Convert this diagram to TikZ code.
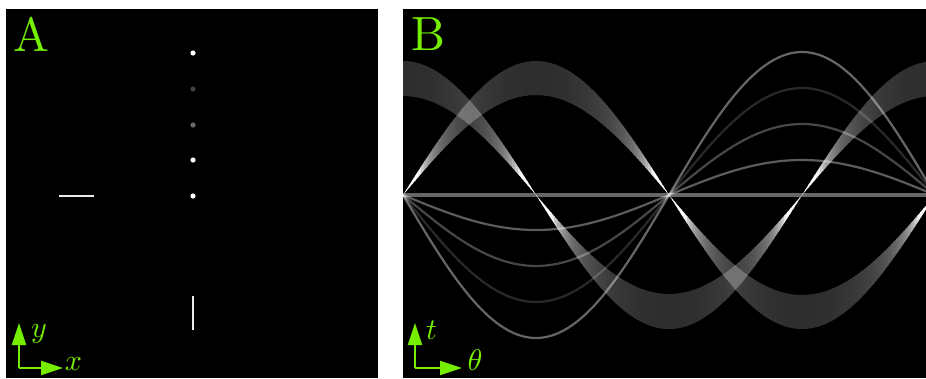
\documentclass[tikz,border=0pt]{standalone}
\usetikzlibrary{arrows.meta,positioning}
\definecolor{limegreen2}{RGB}{118,238,0}
\definecolor{dotgray1}{RGB}{64,64,64}
\definecolor{dotgray2}{RGB}{105,105,105}
\tikzset{
  panel/.style={fill=black, draw=none, inner sep=0pt, outer sep=0pt},
  paneltag/.style={text=limegreen2, scale=4.8, inner sep=0pt, anchor=base west},
  axisline/.style={draw=limegreen2, line width=2pt, -{Triangle[length=22pt,width=14pt]}},
  axislabel/.style={text=limegreen2, scale=3, inner sep=0pt},
  seg/.style={draw=white!92!black, line width=2.2pt},
  trace/.style={draw=white, line width=2.2pt, draw opacity=#1}
}
\newcommand{\sinox}[1]{403+1.478*(#1)}

\begin{document}
\begin{tikzpicture}[x=1pt, y=-1pt]
\useasboundingbox[fill=white] (0,0) rectangle (926,378);
\node[panel, minimum width=372pt, minimum height=369pt, anchor=north west] (imgA) at (6,9) {};
\node[panel, minimum width=523pt, minimum height=369pt, anchor=north west] (imgB) at (403,9) {};

% object
\foreach \yy/\c in {53/white,89/dotgray1,125/dotgray2,160/white,196/white}
  \fill[\c] (193,\yy) circle (2.6);
\draw[seg] (59,196) -- (94,196);
\draw[seg] (193,296) -- (193,330);

% sinogram
\begin{scope}
\clip (403,9) rectangle (926,378);
\begin{scope}[blend mode=screen]
\begin{scope}[transparency group]
\begin{scope}[blend mode=normal]
\foreach \a in {0,2,...,358}{
  \pgfmathsetmacro{\b}{\a+2.6}
  \pgfmathsetmacro{\lv}{min(100,18/max(abs(cos(\a+1)),0.01))}
  \fill[white!\lv!black] ({\sinox{\a}},{195-134*cos(\a)}) -- ({\sinox{\b}},{195-134*cos(\b)})
    -- ({\sinox{\b}},{195-99*cos(\b)}) -- ({\sinox{\a}},{195-99*cos(\a)}) -- cycle;
}
\end{scope}
\end{scope}
\begin{scope}[transparency group]
\begin{scope}[blend mode=normal]
\foreach \a in {0,2,...,358}{
  \pgfmathsetmacro{\b}{\a+2.6}
  \pgfmathsetmacro{\lv}{min(100,18/max(abs(sin(\a+1)),0.01))}
  \fill[white!\lv!black] ({\sinox{\a}},{195-134*sin(\a)}) -- ({\sinox{\b}},{195-134*sin(\b)})
    -- ({\sinox{\b}},{195-100*sin(\b)}) -- ({\sinox{\a}},{195-100*sin(\a)}) -- cycle;
}
\end{scope}
\end{scope}
\end{scope}
\foreach \amp/\op in {143/0.4,107/0.16,71/0.28,35/0.36}
  \draw[trace=\op] plot[domain=0:360, samples=145, smooth] ({\sinox{\x}},{195+\amp*sin(\x)});
\draw[trace=0.4, line width=3.5pt] (403,195) -- (926,195);
\end{scope}

% tags and axes
\node[paneltag] (tagA) at (13,51) {A};
\node[paneltag] (tagB) at (411,50) {B};
\coordinate (oA) at (19,368);
\draw[axisline] (oA) -- ++(0,-45) coordinate (yA);
\draw[axisline] (oA) -- ++(44,0) coordinate (xA);
\node[axislabel] (labyA) at (39,334) {$y$};
\node[axislabel] (labxA) at (73.5,364) {$x$};
\coordinate (oB) at (415,368);
\draw[axisline] (oB) -- ++(0,-45) coordinate (yB);
\draw[axisline] (oB) -- ++(47,0) coordinate (xB);
\node[axislabel] (labtB) at (431.5,330) {$t$};
\node[axislabel] (labthB) at (475,360) {$\theta$};
\end{tikzpicture}
\end{document}
